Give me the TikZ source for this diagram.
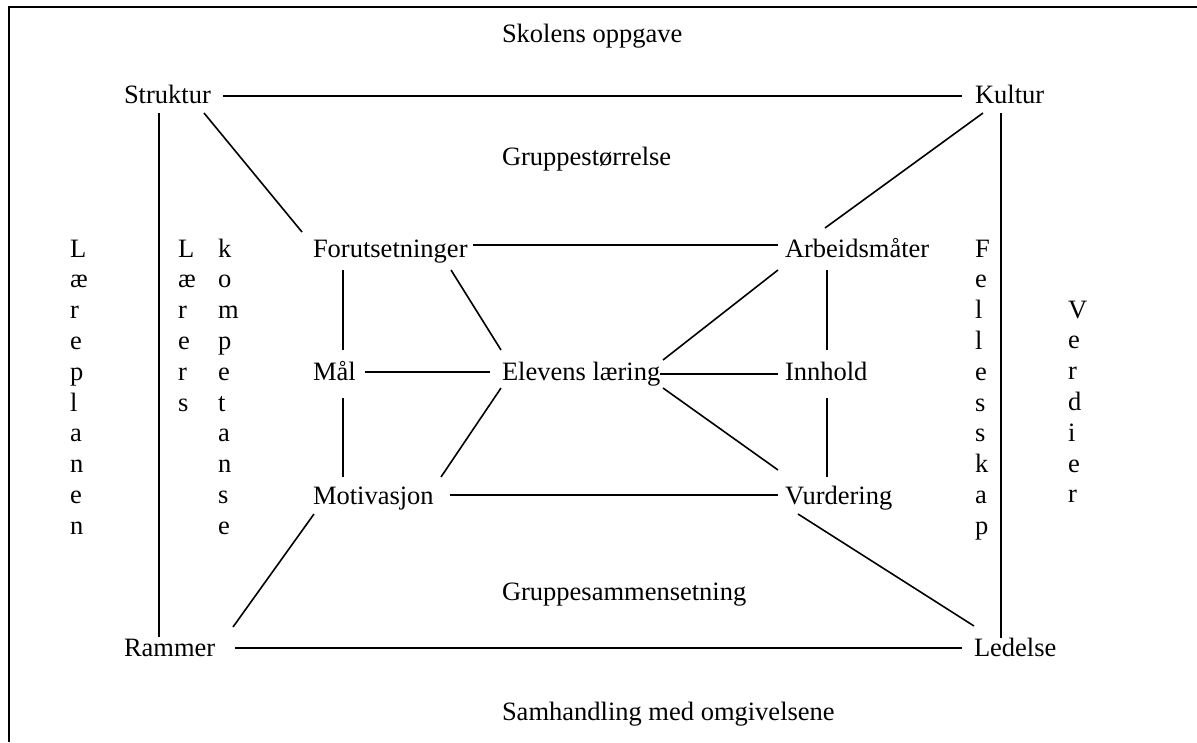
\documentclass[tikz,border=0pt]{standalone}
\usepackage{fontspec}
\setmainfont{Liberation Serif}
\usetikzlibrary{calc}
\begin{document}
\begin{tikzpicture}[x=1pt,y=-1pt,
  lbl/.style={inner sep=0pt,outer sep=0pt,anchor=base west,text height=16pt,text depth=0pt,font=\fontsize{26.5}{30.8}\selectfont},
  col/.style={inner sep=0pt,outer sep=0pt,anchor=base west,font=\fontsize{26.5}{30.8}\selectfont},
  conn/.style={line width=1.6pt},
  frame/.style={line width=2.6pt}]
\useasboundingbox (0,0) rectangle (1197,742);
% frame (top and left edges)
\draw[frame] (1197,7) -- (9,7) -- (9,742);

% texts
\node[lbl] (so) at (502,42) {Skolens oppgave};
\node[lbl] (s)  at (124,103) {Struktur};
\node[lbl] (k)  at (975,103) {Kultur};
\node[lbl] (gs) at (502,165) {Gruppestørrelse};
\node[lbl] (f)  at (313,257) {Forutsetninger};
\node[lbl] (a)  at (785,257) {Arbeidsmåter};
\node[lbl] (m)  at (313,380) {Mål};
\node[lbl] (e)  at (502,380) {Elevens læring};
\node[lbl] (i)  at (785,380) {Innhold};
\node[lbl] (mo) at (313,504) {Motivasjon};
\node[lbl] (v)  at (785,504) {Vurdering};
\node[lbl] (gm) at (502,600) {Gruppesammensetning};
\node[lbl] (r)  at (124,656) {Rammer};
\node[lbl] (l)  at (974,656) {Ledelse};
\node[lbl] (sm) at (502,720) {Samhandling med omgivelsene};

% vertical words
\node[col] (lp) at (70,257) {\begin{tabular}[t]{@{}l@{}}L\\æ\\r\\e\\p\\l\\a\\n\\e\\n\end{tabular}};
\node[col] (lr) at (178,257) {\begin{tabular}[t]{@{}l@{}}L\\æ\\r\\e\\r\\s\end{tabular}};
\node[col] (ko) at (218,257) {\begin{tabular}[t]{@{}l@{}}k\\o\\m\\p\\e\\t\\a\\n\\s\\e\end{tabular}};
\node[col] (fe) at (975,257) {\begin{tabular}[t]{@{}l@{}}F\\e\\l\\l\\e\\s\\s\\k\\a\\p\end{tabular}};
\node[col] (vd) at (1068,318) {\begin{tabular}[t]{@{}l@{}}V\\e\\r\\d\\i\\e\\r\end{tabular}};

% connectors
\draw[conn] ($(s.south west)+(99,-7)$) -- ($(k.south west)+(-13,-7)$);
\draw[conn] ($(s.south west)+(35,10)$) -- ($(r.south west)+(35,-19)$);
\draw[conn] ($(k.south west)+(26,10)$) -- ($(l.south west)+(27,-18)$);
\draw[conn] ($(s.south west)+(80,10)$) -- ($(f.south west)+(-11,-25)$);
\draw[conn] ($(k.south west)+(8,10)$) -- ($(a.south west)+(40,-29)$);
\draw[conn] ($(f.south west)+(160,-12)$) -- ($(a.south west)+(-7,-12)$);
\draw[conn] ($(f.south west)+(30,13)$) -- ($(m.south west)+(30,-30)$);
\draw[conn] ($(f.south west)+(138,13)$) -- ($(e.south west)+(-1,-30)$);
\draw[conn] ($(m.south west)+(52,-8)$) -- ($(e.south west)+(-12,-8)$);
\draw[conn] ($(e.south west)+(158,-6)$) -- ($(i.south west)+(-7,-6)$);
\draw[conn] ($(e.south west)+(161,-20)$) -- ($(a.south west)+(-7,13)$);
\draw[conn] ($(e.south west)+(161,8)$) -- ($(v.south west)+(-7,-34)$);
\draw[conn] ($(m.south west)+(30,18)$) -- ($(mo.south west)+(30,-27)$);
\draw[conn] ($(mo.south west)+(128,-27)$) -- ($(e.south west)+(-1,8)$);
\draw[conn] ($(mo.south west)+(137,-9)$) -- ($(v.south west)+(-7,-9)$);
\draw[conn] ($(a.south west)+(42,13)$) -- ($(i.south west)+(42,-30)$);
\draw[conn] ($(i.south west)+(42,18)$) -- ($(v.south west)+(42,-27)$);
\draw[conn] ($(mo.south west)+(1,10)$) -- ($(r.south west)+(109,-29)$);
\draw[conn] ($(v.south west)+(13,10)$) -- ($(l.south west)+(0,-30)$);
\draw[conn] ($(r.south west)+(111,-8)$) -- ($(l.south west)+(-12,-8)$);
\end{tikzpicture}
\end{document}
